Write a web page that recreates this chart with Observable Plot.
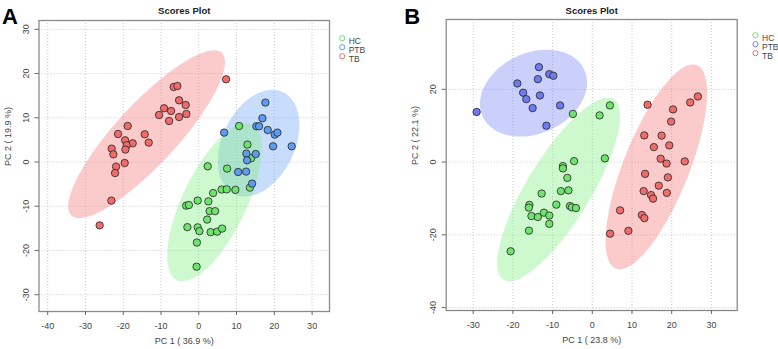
<!DOCTYPE html>
<html>
<head>
<meta charset="utf-8">
<script src="https://cdn.jsdelivr.net/npm/d3@7"></script>
<script src="https://cdn.jsdelivr.net/npm/@observablehq/plot@0.6"></script>
<style>
  html, body { margin: 0; padding: 0; background: #fff; }
  #wrap { position: relative; width: 778px; height: 349px; overflow: hidden; font-family: "Liberation Sans", Arial, sans-serif; }
  .panel { position: absolute; top: 0; width: 389px; height: 349px; }
</style>
</head>
<body>
<div id="wrap">
  <div class="panel" id="panelA" style="left:0"></div>
  <div class="panel" id="panelB" style="left:389px"></div>
</div>
<script>
// PCA scores, panel A (PC1 36.9 %, PC2 19.9 %)
const groups = ["HC", "PTB", "TB"];

const hcA_pc1 = [10.67, 12.87, 13.85, 2.36, 7.49, 13.53, 6.04, 7.39, 9.69, 3.79, -0.29, -3.34, -2.62, 2.54, 2.86, 4.32, 2.22, -3.02, -0.29, 0.16, 3.12, 4.85, 6.17, -0.50, -0.58];
const hcA_pc2 = [8.14, 3.94, 0.84, -0.97, -1.49, -5.79, -6.22, -6.18, -6.29, -7.01, -8.71, -9.86, -9.73, -8.89, -11.11, -11.11, -13.01, -14.73, -14.77, -15.63, -15.86, -15.75, -15.05, -18.21, -23.67];

const ptbA_pc1 = [17.63, 16.84, 15.25, 15.96, 18.24, 20.10, 20.81, 6.70, 19.67, 24.60, 12.60, 15.06, 12.79, 10.41, 12.52, 14.11];
const ptbA_pc2 = [13.44, 9.89, 8.08, 8.08, 7.24, 6.20, 6.65, 6.65, 3.55, 3.55, 1.90, 1.81, 0.38, -2.26, -2.17, -4.89];

const tbA_pc1 = [-6.65, -5.67, -5.22, -3.47, -9.19, -10.51, -7.33, -7.86, -5.22, -3.28, -18.82, -21.37, -14.32, -19.51, -13.26, -17.50, -19.09, -23.06, -19.43, -22.61, -19.62, -21.90, -22.16, -23.14, -26.24, 7.23];
const tbA_pc2 = [16.97, 17.19, 13.96, 12.90, 12.15, 10.63, 11.54, 9.28, 10.18, 10.86, 8.14, 6.33, 6.27, 4.91, 4.39, 4.23, 3.78, 3.03, 2.81, 1.74, -0.23, -1.04, -2.49, -8.73, -14.32, 18.71];

// PCA scores, panel B (PC1 23.8 %, PC2 22.1 %)
const hcB_pc1 = [-4.88, 1.84, 4.43, 3.17, -4.58, -7.40, -7.40, -6.29, -12.76, -7.91, -6.02, -15.84, -15.99, -9.06, -5.64, -5.14, -4.13, -12.19, -15.33, -13.72, -10.83, -10.83, -15.96, -20.57];
const hcB_pc2 = [13.24, 12.83, 15.58, 1.02, 0.27, -1.10, -1.73, -4.34, -8.65, -7.99, -7.77, -11.76, -12.53, -11.70, -12.09, -12.45, -12.64, -13.90, -14.84, -15.11, -14.70, -16.98, -18.85, -24.53];

const ptbB_pc1 = [-13.44, -10.83, -9.82, -13.70, -18.88, -17.42, -16.62, -13.19, -15.03, -8.11, -29.13, -11.56];
const ptbB_pc2 = [26.10, 24.18, 23.74, 22.80, 21.62, 19.07, 17.31, 18.32, 14.84, 15.58, 13.79, 10.00];

const tbB_pc1 = [26.59, 24.67, 13.92, 20.34, 19.86, 13.09, 17.47, 19.39, 15.51, 17.22, 18.71, 23.29, 13.29, 19.03, 16.74, 12.94, 18.78, 14.80, 15.31, 7.00, 12.49, 13.12, 9.09, 4.48];
const tbB_pc2 = [18.05, 16.40, 15.77, 14.48, 11.13, 7.34, 7.28, 4.59, 4.12, 0.93, -0.41, 0.19, -3.24, -4.20, -6.48, -7.97, -8.46, -9.07, -10.05, -13.27, -14.56, -15.41, -18.90, -19.67];

// axis ticks
const ticksA_x = [-40, -30, -20, -10, 0, 10, 20, 30];
const ticksA_y = [-30, -20, -10, 0, 10, 20, 30];
const ticksB_x = [-30, -20, -10, 0, 10, 20, 30];
const ticksB_y = [-40, -20, 0, 20];

// group colours
const pointColorA = {HC: "#6ee36e", PTB: "#5e9cf0", TB: "#f06b6b"};
const pointColorB = {HC: "#6ee36e", PTB: "#6c7cf0", TB: "#f06b6b"};
const ellipseColorA = {HC: "#7ef07e", PTB: "#6ea6f5", TB: "#f57575"};
const ellipseColorB = {HC: "#7ef07e", PTB: "#7484f2", TB: "#f57575"};

function rows(group, xs, ys) {
  return xs.map((x, i) => ({group, x, y: ys[i]}));
}

// 95 % confidence ellipse from the covariance of a group's scores
function ellipse(xs, ys, n = 120) {
  const mx = d3.mean(xs), my = d3.mean(ys), k = xs.length - 1;
  let sxx = 0, syy = 0, sxy = 0;
  xs.forEach((x, i) => {
    const dx = x - mx, dy = ys[i] - my;
    sxx += dx * dx; syy += dy * dy; sxy += dx * dy;
  });
  sxx /= k; syy /= k; sxy /= k;
  const l11 = Math.sqrt(sxx), l21 = sxy / l11, l22 = Math.sqrt(syy - l21 * l21);
  const t = Math.sqrt(5.991464547);
  return d3.range(n).map(i => {
    const a = 2 * Math.PI * i / n, c = Math.cos(a), s = Math.sin(a);
    return {x: mx + t * l11 * c, y: my + t * (l21 * c + l22 * s)};
  });
}

function panel(cfg) {
  const sets = cfg.sets;
  const points = sets.flatMap(s => rows(s.group, s.xs, s.ys));
  const marks = [];
  marks.push(Plot.gridX(cfg.ticksX, {stroke: "#bbb", strokeOpacity: 1, strokeDasharray: "1,2", strokeWidth: 0.8}));
  marks.push(Plot.gridY(cfg.ticksY, {stroke: "#bbb", strokeOpacity: 1, strokeDasharray: "1,2", strokeWidth: 0.8}));
  for (const s of cfg.ellipseOrder.map(g => sets.find(d => d.group === g))) {
    marks.push(Plot.line(ellipse(s.xs, s.ys), {
      x: "x", y: "y", curve: "linear-closed",
      fill: cfg.ellipseColor[s.group], fillOpacity: 0.38, stroke: "none"
    }));
  }
  marks.push(Plot.dot(points, {
    x: "x", y: "y", r: 3.7,
    fill: d => cfg.pointColor[d.group], stroke: "#222", strokeWidth: 0.8
  }));
  marks.push(Plot.frame({stroke: "#8a8a8a", strokeWidth: 1.3}));
  // axes
  marks.push(Plot.axisX(cfg.ticksX, {tickSize: 4, tickPadding: 7, stroke: "#666", fill: "#444", fontSize: 9, label: null, tickFormat: d => String(d)}));
  marks.push(Plot.axisY(cfg.ticksY, {tickSize: 4, stroke: "#666", tickFormat: () => "", label: null}));
  marks.push(Plot.text(cfg.ticksY, {y: d => d, frameAnchor: "left", dx: -13, rotate: -90, text: d => String(d), fill: "#444", fontSize: 9, textAnchor: "middle"}));
  // axis titles
  marks.push(Plot.text([cfg.xLabel], {frameAnchor: "bottom", dy: 32, fill: "#444", fontSize: 9}));
  marks.push(Plot.text([cfg.yLabel], {frameAnchor: "left", dx: cfg.yLabelDx, rotate: -90, fill: "#444", fontSize: 9}));
  // title and panel letter
  marks.push(Plot.text(["Scores Plot"], {frameAnchor: "top", dy: cfg.titleDy, fontWeight: "bold", fontSize: 9.5, fill: "#222"}));
  marks.push(Plot.text([cfg.letter], {frameAnchor: "top-left", dx: cfg.letterDx, dy: cfg.letterDy, fontWeight: "bold", fontSize: 22, fill: "#000", textAnchor: "middle"}));
  // legend
  groups.forEach((g, i) => {
    marks.push(Plot.dot([g], {frameAnchor: "top-right", dx: cfg.legendDx, dy: cfg.legendDy + 9 * i, r: 2.6, stroke: cfg.pointColor[g], strokeWidth: 1, fill: "none"}));
    marks.push(Plot.text([g], {frameAnchor: "top-right", dx: cfg.legendDx + 6.5, dy: cfg.legendDy + 9 * i, text: d => d, textAnchor: "start", fontSize: 8.5, fill: "#444"}));
  });
  return Plot.plot({
    width: 389, height: 349,
    marginLeft: cfg.margins[0], marginRight: cfg.margins[1],
    marginTop: cfg.margins[2], marginBottom: cfg.margins[3],
    style: {fontFamily: "'Liberation Sans', Arial, sans-serif", fontSize: "9px", background: "white", overflow: "visible"},
    x: {domain: cfg.xDomain, axis: null},
    y: {domain: cfg.yDomain, axis: null},
    marks
  });
}

const plotA = panel({
  letter: "A",
  sets: [
    {group: "HC", xs: hcA_pc1, ys: hcA_pc2},
    {group: "PTB", xs: ptbA_pc1, ys: ptbA_pc2},
    {group: "TB", xs: tbA_pc1, ys: tbA_pc2}
  ],
  ellipseOrder: ["TB", "PTB", "HC"],
  pointColor: pointColorA, ellipseColor: ellipseColorA,
  ticksX: ticksA_x, ticksY: ticksA_y,
  xDomain: [-42.3, 34.6], yDomain: [-33.8, 32.0],
  margins: [38.5, 60, 20, 38],
  xLabel: "PC 1 ( 36.9 %)", yLabel: "PC 2 ( 19.9 %)", yLabelDx: -30.5,
  titleDy: -13.3, letterDx: -29, letterDy: -12,
  legendDx: 12.7, legendDy: 17.7
});

const plotB = panel({
  letter: "B",
  sets: [
    {group: "HC", xs: hcB_pc1, ys: hcB_pc2},
    {group: "PTB", xs: ptbB_pc1, ys: ptbB_pc2},
    {group: "TB", xs: tbB_pc1, ys: tbB_pc2}
  ],
  ellipseOrder: ["TB", "PTB", "HC"],
  pointColor: pointColorB, ellipseColor: ellipseColorB,
  ticksX: ticksB_x, ticksY: ticksB_y,
  xDomain: [-36.8, 36.5], yDomain: [-40.8, 39.2],
  margins: [56.7, 41.3, 19, 39],
  xLabel: "PC 1 ( 23.8 %)", yLabel: "PC 2 ( 22.1 %)", yLabelDx: -30.7,
  titleDy: -12.3, letterDx: -34, letterDy: -11,
  legendDx: 18.3, legendDy: 15.7
});

document.getElementById("panelA").appendChild(plotA);
document.getElementById("panelB").appendChild(plotB);
</script>
</body>
</html>
